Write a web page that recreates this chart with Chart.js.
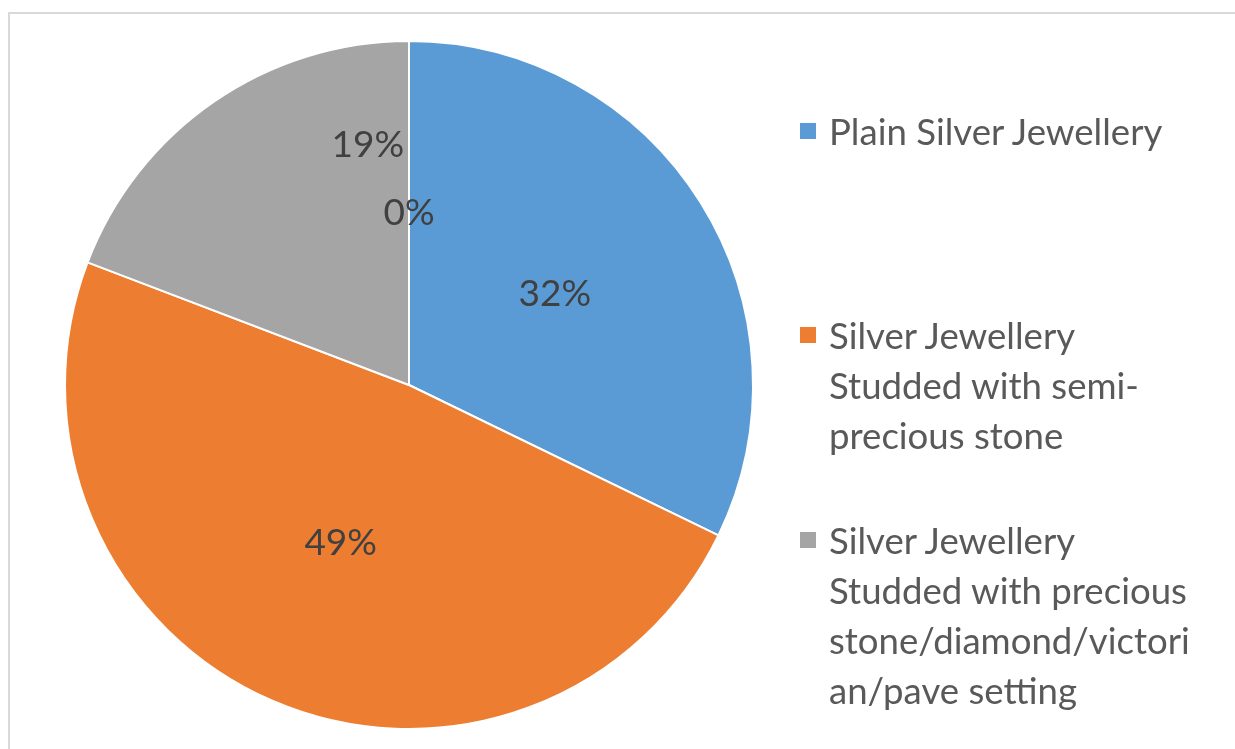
<!DOCTYPE html>
<html lang="en">
<head>
    <meta charset="UTF-8">
    <title>Silver Jewellery Share</title>
    <script src="https://cdn.jsdelivr.net/npm/chart.js"></script>
    <style>
        body { margin: 0; background: #fff; }
        #wrap { position: relative; width: 1235px; height: 749px; overflow: hidden; }
        #frame { position: absolute; left: 8px; top: 12px; width: 1400px; height: 900px; border: 2px solid #d9d9d9; box-sizing: border-box; }
        #pieChart { position: absolute; left: 0; top: 0; }
        #legend { position: absolute; left: 800px; top: 0; font-family: Lato, "Open Sans", sans-serif; font-size: 36.6px; color: #595959; }
        .item { position: absolute; left: 0; white-space: nowrap; line-height: 50px; }
        .box { position: absolute; left: 0; top: 17px; width: 16px; height: 16px; }
        .txt { position: absolute; left: 29px; top: 0; }
    </style>
</head>
<body>
    <div id="wrap">
        <div id="frame"></div>
        <canvas id="pieChart" width="1235" height="749"></canvas>
        <div id="legend"></div>
    </div>
    <script>
        // categories (each label split into the lines shown in the legend)
        const categories = [
            ['Plain Silver Jewellery'],
            ['Silver Jewellery', 'Studded with semi-', 'precious stone'],
            ['Silver Jewellery', 'Studded with precious', 'stone/diamond/victori', 'an/pave setting'],
            ['']
        ];
        const shares = [32.2, 48.6, 19.2, 0];
        const colors = ['#5b9bd5', '#ed7d31', '#a5a5a5', '#ffc000'];

        const legendTops = [106, 310, 515];

        // percent labels drawn on each slice
        const sliceLabels = {
            id: 'sliceLabels',
            afterDatasetsDraw(chart, args, opts) {
                const ctx = chart.ctx;
                const meta = chart.getDatasetMeta(0);
                const total = shares.reduce((a, b) => a + b, 0);
                ctx.save();
                ctx.font = '37px Lato, "Open Sans", sans-serif';
                ctx.fillStyle = '#404040';
                ctx.textAlign = 'center';
                ctx.textBaseline = 'middle';
                meta.data.forEach((arc, i) => {
                    let p = arc.tooltipPosition();
                    const o = opts.overrides[i];
                    if (o) {
                        const a = (o.angle - 90) * Math.PI / 180;
                        p = { x: arc.x + Math.cos(a) * arc.outerRadius * o.r, y: arc.y + Math.sin(a) * arc.outerRadius * o.r };
                    }
                    const pct = Math.round(shares[i] / total * 100) + '%';
                    ctx.fillText(pct, p.x, p.y);
                });
                ctx.restore();
            }
        };

        const ctx = document.getElementById('pieChart').getContext('2d');
        const chart = new Chart(ctx, {
            type: 'pie',
            data: {
                labels: categories.map(c => c.join(' ')),
                datasets: [{
                    data: shares,
                    backgroundColor: colors,
                    borderColor: '#ffffff',
                    borderWidth: 2
                }]
            },
            options: {
                responsive: false,
                animation: false,
                layout: { padding: { left: 64, top: 40, right: 481, bottom: 19 } },
                plugins: {
                    legend: { display: false },
                    tooltip: { enabled: false },
                    sliceLabels: { overrides: { 2: { angle: -9.7, r: 0.709 } } }
                }
            },
            plugins: [sliceLabels]
        });

        // html legend, built from the chart's categories and colours
        const legend = document.getElementById('legend');
        categories.forEach((lines, i) => {
            if (!lines.join('')) return;
            const item = document.createElement('div');
            item.className = 'item';
            item.style.top = legendTops[i] + 'px';
            item.innerHTML = '<span class="box" style="background:' + colors[i] + '"></span>' +
                '<span class="txt">' + lines.join('<br>') + '</span>';
            legend.appendChild(item);
        });
    </script>
</body>
</html>
